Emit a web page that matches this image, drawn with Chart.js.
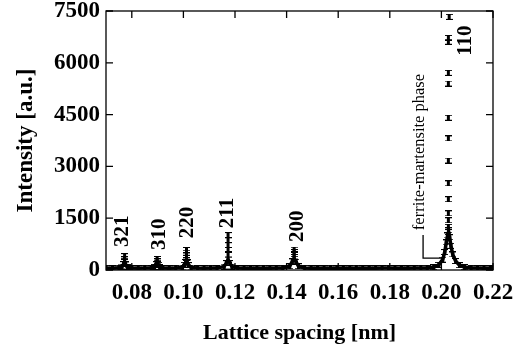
<!DOCTYPE html>
<html><head><meta charset="utf-8">
<script src="https://cdn.jsdelivr.net/npm/chart.js@4/dist/chart.umd.min.js"></script>
<style>html,body{margin:0;padding:0;background:#fff}#wrap{width:518px;height:347px}</style>
</head><body><div id="wrap"><canvas id="c" width="518" height="347"></canvas></div>
<script>
// ---- data ----
const baseX = [0.070,0.0725,0.075,0.0762,0.0768,0.0772,0.0776,0.0782,0.080,0.0825,
  0.085,0.0875,0.0888,0.0894,0.0898,0.0902,0.0908,0.092,0.0945,0.097,
  0.0995,0.1005,0.1009,0.1012,0.1015,0.1019,0.103,0.1055,0.108,0.1105,
  0.113,0.1158,0.1166,0.1173,0.118,0.1188,0.121,0.1235,0.126,0.1285,
  0.131,0.1335,0.136,0.1385,0.1412,0.1422,0.1429,0.1436,0.1446,0.147,
  0.1495,0.152,0.1545,0.157,0.1595,0.162,0.1645,0.167,0.1695,0.172,
  0.1745,0.177,0.1795,0.182,0.1845,0.187,0.1895,0.192,0.1945,0.197,
  0.199,0.2005,0.2013,0.2019,0.2024,0.2028,0.2032,0.2037,0.2044,0.2055,
  0.207,0.209,0.2115,0.214,0.2165,0.219,0.220];
const baseY = [60,50,65,100,170,230,160,90,55,50,
  60,55,90,170,210,150,80,55,50,60,
  70,150,230,280,220,140,70,55,50,60,
  55,100,200,300,200,100,55,50,55,50,
  60,50,55,60,110,250,330,240,110,60,
  50,55,50,60,50,55,50,60,50,55,
  50,55,60,50,55,50,55,60,60,80,
  150,300,520,800,1000,1100,950,700,450,260,
  140,80,60,55,50,55,50];
const stackX = [0.0772,0.0772, 0.0898,0.0898, 0.1012,0.1012,0.1012,0.1012,
  0.1173,0.1173,0.1173,0.1173,0.1173, 0.1429,0.1429,0.1429,0.1429,
  0.2030,0.2027,0.2027,0.2027,0.2027,0.2027,0.2027,0.2027,0.2027,0.2027,0.2027,0.2027,0.2027,0.2027];
const stackY = [400,310, 320,250, 580,500,420,350,
  1010,860,720,580,450, 590,520,450,390,
  7330,6720,6610,5710,5400,4410,3810,3170,2510,2050,1640,1440,1250,1150];
const peakLabels = ['321','310','220','211','200','110'];
const peakLabelX = [0.0766,0.0909,0.1018,0.1173,0.1444,0.2095];
const peakLabelY = [663,577,923,1212,808,6202];
const xTicks = [0.08,0.10,0.12,0.14,0.16,0.18,0.20,0.22];
const yTicks = [0,1500,3000,4500,6000,7500];

// ---- marker ----
const mk = document.createElement('canvas');
mk.width = 7; mk.height = 6;
(function(){const g = mk.getContext('2d'); g.fillStyle = '#000';
  g.fillRect(0,0,7,1); g.fillRect(0,5,7,1); g.fillRect(2,1,3,4);})();

const SERIF = '"Liberation Serif","Times New Roman",serif';

const framePlugin = {
  id: 'frame',
  afterDatasetsDraw(chart) {
    const {ctx, chartArea: a, scales} = chart;
    ctx.save();
    ctx.strokeStyle = '#000'; ctx.lineWidth = 1.3;
    ctx.strokeRect(a.left, a.top, a.right - a.left, a.bottom - a.top);
    const L = 7;
    ctx.beginPath();
    xTicks.forEach(v => { const p = scales.x.getPixelForValue(v);
      ctx.moveTo(p, a.bottom); ctx.lineTo(p, a.bottom - L);
      ctx.moveTo(p, a.top); ctx.lineTo(p, a.top + L); });
    yTicks.forEach(v => { const p = scales.y.getPixelForValue(v);
      ctx.moveTo(a.left, p); ctx.lineTo(a.left + L, p);
      ctx.moveTo(a.right, p); ctx.lineTo(a.right - L, p); });
    ctx.stroke();
    // peak labels
    ctx.fillStyle = '#000';
    ctx.font = 'bold 21px ' + SERIF;
    ctx.textAlign = 'left'; ctx.textBaseline = 'middle';
    peakLabels.forEach((t, i) => {
      const x = scales.x.getPixelForValue(peakLabelX[i]);
      const y = scales.y.getPixelForValue(peakLabelY[i]);
      ctx.save(); ctx.translate(x, y); ctx.rotate(-Math.PI / 2);
      ctx.fillText(t, 0, 0); ctx.restore();
    });
    // ferrite-martensite annotation
    const fx = scales.x.getPixelForValue(0.1917), fy = scales.y.getPixelForValue(1154);
    ctx.font = '16.5px ' + SERIF;
    ctx.save(); ctx.translate(fx, fy); ctx.rotate(-Math.PI / 2);
    ctx.fillText('ferrite-martensite phase', 0, 0); ctx.restore();
    ctx.lineWidth = 1.3;
    ctx.beginPath();
    ctx.moveTo(scales.x.getPixelForValue(0.1929), scales.y.getPixelForValue(1010));
    ctx.lineTo(scales.x.getPixelForValue(0.1929), scales.y.getPixelForValue(346));
    ctx.lineTo(scales.x.getPixelForValue(0.2002), scales.y.getPixelForValue(346));
    ctx.stroke();
    ctx.restore();
  }
};

new Chart(document.getElementById('c'), {
  type: 'scatter',
  data: {
    datasets: [
      { data: baseX.map((x, i) => ({x, y: baseY[i]})), showLine: true,
        borderColor: '#000', borderWidth: 3.5, pointStyle: mk, pointRadius: 3, tension: 0 },
      { data: stackX.map((x, i) => ({x, y: stackY[i]})), showLine: false,
        pointStyle: mk, pointRadius: 3 }
    ]
  },
  options: {
    responsive: false, animation: false,
    layout: { padding: { top: 11, right: 25, left: 0, bottom: 0 } },
    plugins: { legend: { display: false }, tooltip: { enabled: false } },
    scales: {
      x: {
        type: 'linear', min: 0.07, max: 0.22,
        afterBuildTicks: s => { s.ticks = xTicks.map(v => ({value: v})); },
        afterFit: s => { s.height = 77; s.paddingLeft = 0; s.paddingRight = 0; },
        grid: { display: false, drawTicks: false }, border: { display: false },
        ticks: { color: '#000', padding: 9, font: { family: SERIF, size: 23, weight: 'bold' },
          callback: v => v.toFixed(2), maxRotation: 0, autoSkip: false },
        title: { display: true, text: 'Lattice spacing [nm]', color: '#000',
          font: { family: SERIF, size: 22, weight: 'bold' }, padding: { top: 8, bottom: 0 } }
      },
      y: {
        min: 0, max: 7500,
        afterBuildTicks: s => { s.ticks = yTicks.map(v => ({value: v})); },
        afterFit: s => { s.width = 106; s.paddingTop = 0; s.paddingBottom = 0; },
        grid: { display: false, drawTicks: false }, border: { display: false },
        ticks: { color: '#000', padding: 6, font: { family: SERIF, size: 23, weight: 'bold' },
          callback: v => String(v) },
        title: { display: true, text: 'Intensity [a.u.]', color: '#000',
          font: { family: SERIF, size: 23, weight: 'bold' }, padding: { top: 12, bottom: 4 } }
      }
    }
  },
  plugins: [framePlugin]
});
</script></body></html>
